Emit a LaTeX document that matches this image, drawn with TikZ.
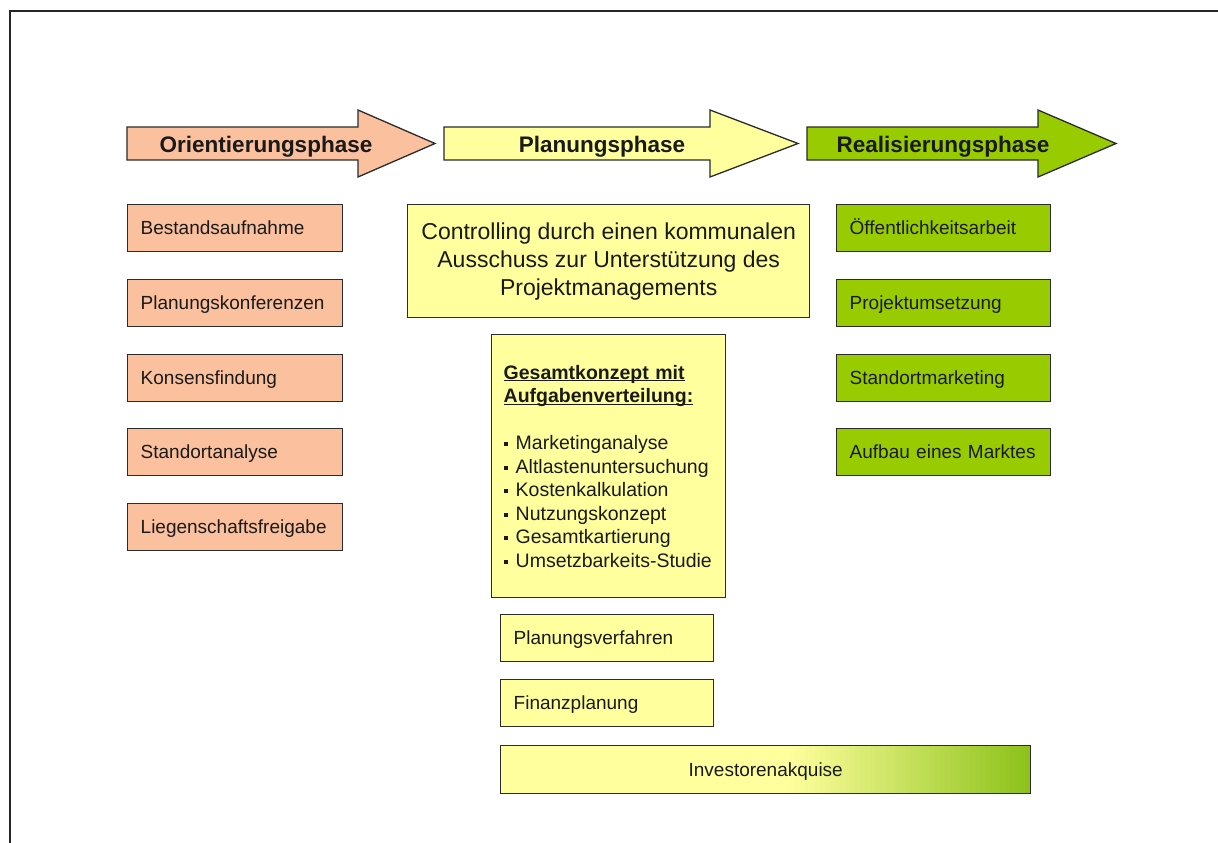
\documentclass[tikz,border=0pt]{standalone}
\usepackage{fontspec}
\setmainfont{Liberation Sans}
\definecolor{peach}{HTML}{FBC09E}
\definecolor{pale}{HTML}{FFFF9E}
\definecolor{lgreen}{HTML}{99CC00}
\definecolor{dgreen}{HTML}{8CC21A}
\definecolor{ink}{HTML}{1A1A1A}
\definecolor{edge}{HTML}{2B2B2B}
\newcommand\myul[1]{\setbox0\hbox{#1}\rlap{\rule[-2.2pt]{\wd0}{1.2pt}}\box0}
\newcommand\mybul{\makebox[12pt][l]{\raisebox{3.5pt}{\rule{4pt}{4pt}}}}
\begin{document}
\begin{tikzpicture}[x=1pt,y=-1pt,
  phasearrow/.style={draw=edge,line width=1.3pt,line join=miter},
  phasetext/.style={font=\fontsize{22.5}{27}\selectfont\bfseries,text=ink,anchor=base,inner sep=0pt},
  itembox/.style={draw=edge,line width=1.4pt,anchor=north west,align=left,inner xsep=13pt,inner ysep=0pt,
    text height=13.5pt,text depth=0pt,font=\fontsize{19}{23}\selectfont,text=ink,minimum height=47pt},
  leftbox/.style={itembox,fill=peach,text width=189pt},
  rightbox/.style={itembox,fill=lgreen,text width=188pt},
  midbox/.style={itembox,fill=pale,text width=187pt},
  bigbox/.style={draw=edge,line width=1.4pt,fill=pale,anchor=north west,text=ink}
]
\useasboundingbox (0,0) rectangle (1218,843);
\fill[white] (0,0) rectangle (1218,843);
\draw[line width=2.5pt,draw=black!85] (10,843) -- (10,11) -- (1218,11);

% phase arrows
\draw[phasearrow,fill=peach] (127,127) -- (358,127) -- (358,110) -- (435,143.5) -- (358,177) -- (358,160) -- (127,160) -- cycle;
\draw[phasearrow,fill=pale] (444,127) -- (710,127) -- (710,110) -- (798,143.5) -- (710,177) -- (710,160) -- (444,160) -- cycle;
\draw[phasearrow,fill=lgreen] (807,127) -- (1038,127) -- (1038,110) -- (1116,143.5) -- (1038,177) -- (1038,160) -- (807,160) -- cycle;
\node[phasetext] (ph1) at (266,152) {Orientierungsphase};
\node[phasetext] (ph2) at (602,152) {Planungsphase};
\node[phasetext] (ph3) at (943,152) {Realisierungsphase};

% left column
\node[leftbox] (l1) at (127,204) {Bestandsaufnahme};
\node[leftbox] (l2) at (127,279) {Planungskonferenzen};
\node[leftbox] (l3) at (127,354) {Konsensfindung};
\node[leftbox] (l4) at (127,428) {Standortanalyse};
\node[leftbox] (l5) at (127,503) {Liegenschaftsfreigabe};

% right column
\node[rightbox] (r1) at (836,204) {Öffentlichkeitsarbeit};
\node[rightbox] (r2) at (836,279) {Projektumsetzung};
\node[rightbox] (r3) at (836,354) {Standortmarketing};
\node[rightbox] (r4) at (836,428) {Aufbau eines Marktes};

% middle column
\node[bigbox,minimum width=402pt,minimum height=113pt,align=center,inner sep=0pt,
  font=\fontsize{23}{28}\selectfont] (ctrl) at (407,204)
  {Controlling durch einen kommunalen\\Ausschuss zur Unterstützung des\\Projektmanagements};

\node[bigbox,minimum width=234pt,minimum height=263pt,inner xsep=12pt,inner ysep=0pt,
  text width=210pt,align=left,font=\fontsize{19.5}{23.5}\selectfont] (konz) at (491,334)
  {\textbf{\myul{Gesamtkonzept mit}}\\\textbf{\myul{Aufgabenverteilung:}}\\[23.5pt]
   \mybul Marketinganalyse\\
   \mybul Altlastenuntersuchung\\
   \mybul Kostenkalkulation\\
   \mybul Nutzungskonzept\\
   \mybul Gesamtkartierung\\
   \mybul Umsetzbarkeits-Studie};

\node[midbox] (plan) at (500,614) {Planungsverfahren};
\node[midbox] (fin) at (500,679) {Finanzplanung};

% gradient background of the long box
\begin{scope}
  \clip (500,745) rectangle (1030,793);
  \fill[pale] (500,745) rectangle (786,793);
  \foreach \i [evaluate=\i as \p using {int(\i*100/48)}] in {0,...,48}
    \fill[dgreen!\p!pale] ({785+5*\i},745) rectangle ({785+5*\i+5.8},793);
\end{scope}
\node[midbox,fill=none,align=center,text width=504pt,minimum height=48pt] (inv) at (500,745) {Investorenakquise};
\end{tikzpicture}
\end{document}
